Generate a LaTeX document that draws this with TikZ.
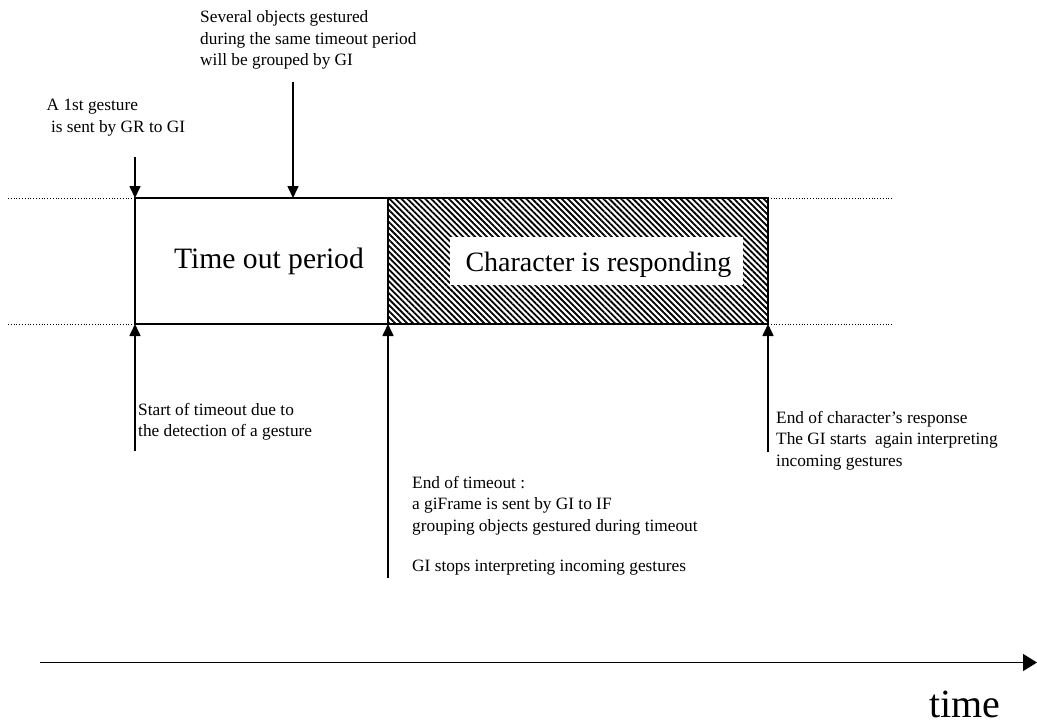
\documentclass[tikz,border=0pt]{standalone}
\usepackage{fontspec}
\setmainfont{Liberation Serif}
\usetikzlibrary{arrows.meta,patterns.meta}
\tikzset{
  small/.style={font=\fontsize{17.3}{21.5}\selectfont, align=left, inner sep=0pt, anchor=north west},
  big/.style={font=\fontsize{29}{34}\selectfont, inner sep=0pt},
  evt/.style={line width=1.6pt, -{Triangle[length=12pt,width=11pt]}},
  boxline/.style={line width=1.6pt, outer sep=0pt},
  guide/.style={line width=0.8pt, dotted},
}
\begin{document}
\begin{tikzpicture}[x=1pt,y=-1pt]
\useasboundingbox (0,0) rectangle (1037,724);
% guide dotted lines
\coordinate (gl1) at (8,198);
\coordinate (gl2) at (8,324);
\coordinate (gr1) at (893,198);
\coordinate (gr2) at (893,324);
% boxes
\node[boxline, draw, minimum width=253pt, minimum height=126pt, inner sep=0pt, anchor=north west] (tbox) at (135,198) {};
\node[boxline, draw, minimum width=380pt, minimum height=126pt, inner sep=0pt, anchor=north west,
      pattern={Lines[angle=-45,distance=4.2pt,line width=1.8pt]}] (rbox) at (388,198) {};
\draw[guide] (gl1) -- (tbox.north west);
\draw[guide] (gl2) -- (tbox.south west);
\draw[guide] (rbox.north east) -- (gr1);
\draw[guide] (rbox.south east) -- (gr2);
% box texts
\node[big, font=\fontsize{29.6}{34}\selectfont, anchor=base] (ttext) at (269,268) {Time out period};
\node[big, fill=white, minimum width=293pt, minimum height=48pt, anchor=north west] (rwhite) at (450,237) {};
\node[big, font=\fontsize{28}{34}\selectfont, anchor=base] (rtext) at (598.5,271.5) {Character is responding};
% arrows from above
\coordinate (a1s) at (135,157);
\coordinate (a2s) at (293,82);
\coordinate (a2e) at (293,198);
\draw[evt] (a1s) -- (tbox.north west);
\draw[evt] (a2s) -- (a2e);
% arrows from below
\coordinate (b1s) at (135,451);
\coordinate (b2s) at (388,578);
\coordinate (b3s) at (768,452);
\draw[evt] (b1s) -- (tbox.south west);
\draw[evt] (b2s) -- (rbox.south west);
\draw[evt] (b3s) -- (rbox.south east);
% labels
\node[small] (l1) at (200,10.5) {Several objects gestured\\during the same timeout period\\will be grouped by GI};
\node[small] (l2) at (46.5,99) {A 1st gesture\\\ is sent by GR to GI};
\node[small] (l3) at (138,403) {Start of timeout due to\\the detection of a gesture};
\node[small] (l4) at (412,476) {End of timeout :\\a giFrame is sent by GI to IF\\grouping objects gestured during timeout\\[19pt]GI stops interpreting incoming gestures};
\node[small] (l5) at (776,411) {End of character's response\\The GI starts\ \ again interpreting\\incoming gestures};
% time axis
\coordinate (ts) at (40,662.5);
\coordinate (te) at (1037,662.5);
\draw[line width=1.4pt, -{Triangle[length=14pt,width=17pt]}] (ts) -- (te);
\node[font=\fontsize{40}{44}\selectfont, inner sep=0pt, anchor=base] (tlabel) at (965,717) {time};
\end{tikzpicture}
\end{document}
